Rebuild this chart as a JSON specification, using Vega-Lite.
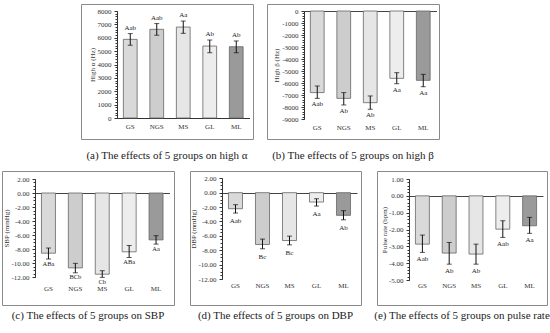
{
  "$schema": "https://vega.github.io/schema/vega-lite/v6.json",
  "padding": {"left": 1, "top": 3, "right": 0, "bottom": 0},
  "background": "white",
  "config": {
    "view": {"stroke": "#8a8a8a", "strokeWidth": 1},
    "font": "Liberation Serif",
    "axis": {"labelFont": "Liberation Serif", "titleFont": "Liberation Serif", "labelFontSize": 7, "titleFontSize": 7, "titleFontWeight": "normal", "labelColor": "#333", "titleColor": "#333", "domainColor": "#333", "tickColor": "#333", "grid": false, "minExtent": 0},
    "title": {"font": "Liberation Serif", "fontSize": 11, "fontWeight": "normal", "color": "#222"},
    "locale": {"number": {"decimal": ".", "thousands": ",", "grouping": [3], "currency": ["$", ""], "minus": "-"}}
  },
  "spacing": 8,
  "vconcat": [
    {
      "spacing": 14,
      "bounds": "flush",
      "hconcat": [
        {"width": 65, "height": 135, "view": {"stroke": null}, "data": {"values": []}, "mark": "point", "encoding": {}},
        {
          "width": 172, "height": 135,
          "title": {"text": "(a) The effects of 5 groups on high α", "orient": "bottom", "anchor": "middle", "frame": "group", "offset": 11},
          "data": {"values": [
            {"g": "GS", "v": 5880, "lo": 5440, "hi": 6310, "lab": "Aab"},
            {"g": "NGS", "v": 6630, "lo": 6190, "hi": 7060, "lab": "Aab"},
            {"g": "MS", "v": 6800, "lo": 6330, "hi": 7250, "lab": "Aa"},
            {"g": "GL", "v": 5380, "lo": 4880, "hi": 5830, "lab": "Ab"},
            {"g": "ML", "v": 5330, "lo": 4880, "hi": 5760, "lab": "Ab"}
          ]},
          "resolve": {"axis": {"x": "independent", "y": "independent"}},
          "layer": [
            {"mark": {"type": "bar", "stroke": "#666", "strokeWidth": 0.8},
             "encoding": {
               "x": {"field": "g", "type": "nominal", "scale": {"domain": ["GS","NGS","MS","GL","ML"], "range": [36, 168.5], "paddingInner": 0.48, "paddingOuter": 0.24}, "axis": {"orient": "bottom", "title": null, "offset": -21, "domain": true, "domainColor": "#333", "ticks": false, "tickSize": 0, "labelPadding": 8, "labelBaseline": "middle", "labelAngle": 0}},
               "y": {"field": "v", "type": "quantitative", "scale": {"domain": [0, 8000], "range": [114, 7], "nice": false, "zero": false}, "axis": {"orient": "left", "offset": -36, "title": "High α (Hz)", "values": [0,1000,2000,3000,4000,5000,6000,7000,8000], "format": "d", "tickSize": 3, "labelPadding": 3, "titlePadding": 2}},
               "color": {"field": "g", "type": "nominal", "scale": {"domain": ["GS","NGS","MS","GL","ML"], "range": ["#d9d9d9", "#cdcdcd", "#e6e6e6", "#ededed", "#9a9a9a"]}, "legend": null}
             }},
            {"mark": {"type": "rule", "color": "#111", "strokeWidth": 1},
             "encoding": {
               "x": {"field": "g", "type": "nominal", "axis": null},
               "y": {"field": "lo", "type": "quantitative", "axis": {"orient": "left", "offset": -36, "labels": false, "domain": false, "title": null, "tickCount": 40, "tickSize": 2}},
               "y2": {"field": "hi"}
             }},
            {"mark": {"type": "tick", "orient": "horizontal", "size": 5, "thickness": 1, "color": "#111"},
             "encoding": {"x": {"field": "g", "type": "nominal", "axis": null}, "y": {"field": "lo", "type": "quantitative", "axis": null}}},
            {"mark": {"type": "tick", "orient": "horizontal", "size": 5, "thickness": 1, "color": "#111"},
             "encoding": {"x": {"field": "g", "type": "nominal", "axis": null}, "y": {"field": "hi", "type": "quantitative", "axis": null}}},
            {"mark": {"type": "text", "dy": -6, "fontSize": 7, "font": "Liberation Serif", "color": "#222", "baseline": "middle"},
             "encoding": {"x": {"field": "g", "type": "nominal", "axis": null}, "y": {"field": "hi", "type": "quantitative", "axis": null}, "text": {"field": "lab"}}}
          ]
        },
        {
          "width": 172, "height": 135,
          "title": {"text": "(b) The effects of 5 groups on high β", "orient": "bottom", "anchor": "middle", "frame": "group", "offset": 11},
          "data": {"values": [
            {"g": "GS", "v": -6800, "lo": -7280, "hi": -6250, "lab": "Aab"},
            {"g": "NGS", "v": -7280, "lo": -7830, "hi": -6800, "lab": "Ab"},
            {"g": "MS", "v": -7640, "lo": -8190, "hi": -7080, "lab": "Ab"},
            {"g": "GL", "v": -5610, "lo": -6060, "hi": -5140, "lab": "Aa"},
            {"g": "ML", "v": -5780, "lo": -6310, "hi": -5280, "lab": "Aa"}
          ]},
          "resolve": {"axis": {"x": "independent", "y": "independent"}},
          "layer": [
            {"mark": {"type": "bar", "stroke": "#666", "strokeWidth": 0.8},
             "encoding": {
               "x": {"field": "g", "type": "nominal", "scale": {"domain": ["GS","NGS","MS","GL","ML"], "range": [37, 169.5], "paddingInner": 0.48, "paddingOuter": 0.24}, "axis": {"orient": "bottom", "title": null, "offset": -12, "domain": false, "ticks": false, "tickSize": 0, "labelPadding": 0, "labelBaseline": "middle", "labelAngle": 0}},
               "y": {"field": "v", "type": "quantitative", "scale": {"domain": [-9000, 0], "range": [115, 7], "nice": false, "zero": false}, "axis": {"orient": "left", "offset": -37, "title": "High β (Hz)", "values": [0,-1000,-2000,-3000,-4000,-5000,-6000,-7000,-8000,-9000], "format": "d", "tickSize": 3, "labelPadding": 3, "titlePadding": 2}},
               "color": {"field": "g", "type": "nominal", "scale": {"domain": ["GS","NGS","MS","GL","ML"], "range": ["#d9d9d9", "#cdcdcd", "#e6e6e6", "#ededed", "#9a9a9a"]}, "legend": null}
             }},
            {"mark": {"type": "rule", "color": "#111", "strokeWidth": 1},
             "encoding": {
               "x": {"field": "g", "type": "nominal", "axis": {"orient": "top", "offset": -7, "labels": false, "ticks": false, "title": null, "domain": true, "domainColor": "#444"}},
               "y": {"field": "lo", "type": "quantitative", "axis": {"orient": "left", "offset": -37, "labels": false, "domain": false, "title": null, "tickCount": 45, "tickSize": 2}},
               "y2": {"field": "hi"}
             }},
            {"mark": {"type": "tick", "orient": "horizontal", "size": 5, "thickness": 1, "color": "#111"},
             "encoding": {"x": {"field": "g", "type": "nominal", "axis": null}, "y": {"field": "lo", "type": "quantitative", "axis": null}}},
            {"mark": {"type": "tick", "orient": "horizontal", "size": 5, "thickness": 1, "color": "#111"},
             "encoding": {"x": {"field": "g", "type": "nominal", "axis": null}, "y": {"field": "hi", "type": "quantitative", "axis": null}}},
            {"mark": {"type": "text", "dy": 6, "fontSize": 7, "font": "Liberation Serif", "color": "#222", "baseline": "middle"},
             "encoding": {"x": {"field": "g", "type": "nominal", "axis": null}, "y": {"field": "lo", "type": "quantitative", "axis": null}, "text": {"field": "lab"}}}
          ]
        }
      ]
    },
    {
      "spacing": 16,
      "bounds": "flush",
      "hconcat": [
        {
          "width": 172, "height": 134,
          "title": {"text": "(c) The effects of 5 groups on SBP", "orient": "bottom", "anchor": "middle", "frame": "group", "offset": 5},
          "data": {"values": [
            {"g": "GS", "v": -8.6, "lo": -9.43, "hi": -7.86, "lab": "ABa"},
            {"g": "NGS", "v": -10.7, "lo": -11.4, "hi": -10.05, "lab": "BCb"},
            {"g": "MS", "v": -11.6, "lo": -12.05, "hi": -11.1, "lab": "Cb"},
            {"g": "GL", "v": -8.4, "lo": -9.2, "hi": -7.5, "lab": "ABa"},
            {"g": "ML", "v": -6.7, "lo": -7.3, "hi": -6.1, "lab": "Aa"}
          ]},
          "resolve": {"axis": {"x": "independent", "y": "independent"}},
          "layer": [
            {"mark": {"type": "bar", "stroke": "#666", "strokeWidth": 0.8},
             "encoding": {
               "x": {"field": "g", "type": "nominal", "scale": {"domain": ["GS","NGS","MS","GL","ML"], "range": [33, 167.5], "paddingInner": 0.48, "paddingOuter": 0.24}, "axis": {"orient": "bottom", "title": null, "offset": -17, "domain": false, "ticks": false, "tickSize": 0, "labelPadding": 0, "labelBaseline": "middle", "labelAngle": 0}},
               "y": {"field": "v", "type": "quantitative", "scale": {"domain": [-12, 2], "range": [106, 8], "nice": false, "zero": false}, "axis": {"orient": "left", "offset": -33, "title": "SBP (mmHg)", "values": [2,0,-2,-4,-6,-8,-10,-12], "format": ".2f", "tickSize": 3, "labelPadding": 3, "titlePadding": 1}},
               "color": {"field": "g", "type": "nominal", "scale": {"domain": ["GS","NGS","MS","GL","ML"], "range": ["#d9d9d9", "#cdcdcd", "#e6e6e6", "#ededed", "#9a9a9a"]}, "legend": null}
             }},
            {"mark": {"type": "rule", "color": "#111", "strokeWidth": 1},
             "encoding": {
               "x": {"field": "g", "type": "nominal", "axis": {"orient": "top", "offset": -22, "labels": false, "ticks": false, "title": null, "domain": true, "domainColor": "#444"}},
               "y": {"field": "lo", "type": "quantitative", "axis": {"orient": "left", "offset": -33, "labels": false, "domain": false, "title": null, "tickCount": 28, "tickSize": 2}},
               "y2": {"field": "hi"}
             }},
            {"mark": {"type": "tick", "orient": "horizontal", "size": 5, "thickness": 1, "color": "#111"},
             "encoding": {"x": {"field": "g", "type": "nominal", "axis": null}, "y": {"field": "lo", "type": "quantitative", "axis": null}}},
            {"mark": {"type": "tick", "orient": "horizontal", "size": 5, "thickness": 1, "color": "#111"},
             "encoding": {"x": {"field": "g", "type": "nominal", "axis": null}, "y": {"field": "hi", "type": "quantitative", "axis": null}}},
            {"mark": {"type": "text", "dy": 4.5, "fontSize": 6.5, "font": "Liberation Serif", "color": "#222", "baseline": "middle"},
             "encoding": {"x": {"field": "g", "type": "nominal", "axis": null}, "y": {"field": "lo", "type": "quantitative", "axis": null}, "text": {"field": "lab"}}}
          ]
        },
        {
          "width": 171, "height": 134,
          "title": {"text": "(d) The effects of 5 groups on DBP", "orient": "bottom", "anchor": "middle", "frame": "group", "offset": 5},
          "data": {"values": [
            {"g": "GS", "v": -2.23, "lo": -2.83, "hi": -1.67, "lab": "Aab"},
            {"g": "NGS", "v": -7.2, "lo": -7.8, "hi": -6.45, "lab": "Bc"},
            {"g": "MS", "v": -6.65, "lo": -7.25, "hi": -6.04, "lab": "Bc"},
            {"g": "GL", "v": -1.3, "lo": -1.86, "hi": -0.84, "lab": "Aa"},
            {"g": "ML", "v": -3.15, "lo": -3.77, "hi": -2.5, "lab": "Ab"}
          ]},
          "resolve": {"axis": {"x": "independent", "y": "independent"}},
          "layer": [
            {"mark": {"type": "bar", "stroke": "#666", "strokeWidth": 0.8},
             "encoding": {
               "x": {"field": "g", "type": "nominal", "scale": {"domain": ["GS","NGS","MS","GL","ML"], "range": [32, 167], "paddingInner": 0.48, "paddingOuter": 0.24}, "axis": {"orient": "bottom", "title": null, "offset": -20, "domain": false, "ticks": false, "tickSize": 0, "labelPadding": 0, "labelBaseline": "middle", "labelAngle": 0}},
               "y": {"field": "v", "type": "quantitative", "scale": {"domain": [-12, 2], "range": [108, 7.3], "nice": false, "zero": false}, "axis": {"orient": "left", "offset": -32, "title": "DBP (mmHg)", "values": [2,0,-2,-4,-6,-8,-10,-12], "format": ".2f", "tickSize": 3, "labelPadding": 3, "titlePadding": 1}},
               "color": {"field": "g", "type": "nominal", "scale": {"domain": ["GS","NGS","MS","GL","ML"], "range": ["#d9d9d9", "#cdcdcd", "#e6e6e6", "#ededed", "#9a9a9a"]}, "legend": null}
             }},
            {"mark": {"type": "rule", "color": "#111", "strokeWidth": 1},
             "encoding": {
               "x": {"field": "g", "type": "nominal", "axis": {"orient": "top", "offset": -22, "labels": false, "ticks": false, "title": null, "domain": true, "domainColor": "#444"}},
               "y": {"field": "lo", "type": "quantitative", "axis": {"orient": "left", "offset": -32, "labels": false, "domain": false, "title": null, "tickCount": 28, "tickSize": 2}},
               "y2": {"field": "hi"}
             }},
            {"mark": {"type": "tick", "orient": "horizontal", "size": 5, "thickness": 1, "color": "#111"},
             "encoding": {"x": {"field": "g", "type": "nominal", "axis": null}, "y": {"field": "lo", "type": "quantitative", "axis": null}}},
            {"mark": {"type": "tick", "orient": "horizontal", "size": 5, "thickness": 1, "color": "#111"},
             "encoding": {"x": {"field": "g", "type": "nominal", "axis": null}, "y": {"field": "hi", "type": "quantitative", "axis": null}}},
            {"mark": {"type": "text", "dy": 8, "fontSize": 7, "font": "Liberation Serif", "color": "#222", "baseline": "middle"},
             "encoding": {"x": {"field": "g", "type": "nominal", "axis": null}, "y": {"field": "lo", "type": "quantitative", "axis": null}, "text": {"field": "lab"}}}
          ]
        },
        {
          "width": 170, "height": 134,
          "title": {"text": "(e) The effects of 5 groups on pulse rate", "orient": "bottom", "anchor": "middle", "frame": "group", "offset": 5},
          "data": {"values": [
            {"g": "GS", "v": -2.87, "lo": -3.36, "hi": -2.33, "lab": "Aab"},
            {"g": "NGS", "v": -3.4, "lo": -4.06, "hi": -2.77, "lab": "Ab"},
            {"g": "MS", "v": -3.46, "lo": -4.06, "hi": -2.87, "lab": "Ab"},
            {"g": "GL", "v": -1.98, "lo": -2.47, "hi": -1.48, "lab": "Aab"},
            {"g": "ML", "v": -1.78, "lo": -2.23, "hi": -1.28, "lab": "Aa"}
          ]},
          "resolve": {"axis": {"x": "independent", "y": "independent"}},
          "layer": [
            {"mark": {"type": "bar", "stroke": "#666", "strokeWidth": 0.8},
             "encoding": {
               "x": {"field": "g", "type": "nominal", "scale": {"domain": ["GS","NGS","MS","GL","ML"], "range": [32, 166], "paddingInner": 0.48, "paddingOuter": 0.24}, "axis": {"orient": "bottom", "title": null, "offset": -20, "domain": false, "ticks": false, "tickSize": 0, "labelPadding": 0, "labelBaseline": "middle", "labelAngle": 0}},
               "y": {"field": "v", "type": "quantitative", "scale": {"domain": [-5, 1], "range": [109, 8], "nice": false, "zero": false}, "axis": {"orient": "left", "offset": -32, "title": "Pulse rate  (bpm)", "values": [1,0,-1,-2,-3,-4,-5], "format": ".2f", "tickSize": 3, "labelPadding": 3, "titlePadding": 1}},
               "color": {"field": "g", "type": "nominal", "scale": {"domain": ["GS","NGS","MS","GL","ML"], "range": ["#d9d9d9", "#cdcdcd", "#e6e6e6", "#ededed", "#9a9a9a"]}, "legend": null}
             }},
            {"mark": {"type": "rule", "color": "#111", "strokeWidth": 1},
             "encoding": {
               "x": {"field": "g", "type": "nominal", "axis": {"orient": "top", "offset": -25, "labels": false, "ticks": false, "title": null, "domain": true, "domainColor": "#444"}},
               "y": {"field": "lo", "type": "quantitative", "axis": {"orient": "left", "offset": -32, "labels": false, "domain": false, "title": null, "tickCount": 30, "tickSize": 2}},
               "y2": {"field": "hi"}
             }},
            {"mark": {"type": "tick", "orient": "horizontal", "size": 5, "thickness": 1, "color": "#111"},
             "encoding": {"x": {"field": "g", "type": "nominal", "axis": null}, "y": {"field": "lo", "type": "quantitative", "axis": null}}},
            {"mark": {"type": "tick", "orient": "horizontal", "size": 5, "thickness": 1, "color": "#111"},
             "encoding": {"x": {"field": "g", "type": "nominal", "axis": null}, "y": {"field": "hi", "type": "quantitative", "axis": null}}},
            {"mark": {"type": "text", "dy": 7, "fontSize": 7, "font": "Liberation Serif", "color": "#222", "baseline": "middle"},
             "encoding": {"x": {"field": "g", "type": "nominal", "axis": null}, "y": {"field": "lo", "type": "quantitative", "axis": null}, "text": {"field": "lab"}}}
          ]
        }
      ]
    }
  ]
}
